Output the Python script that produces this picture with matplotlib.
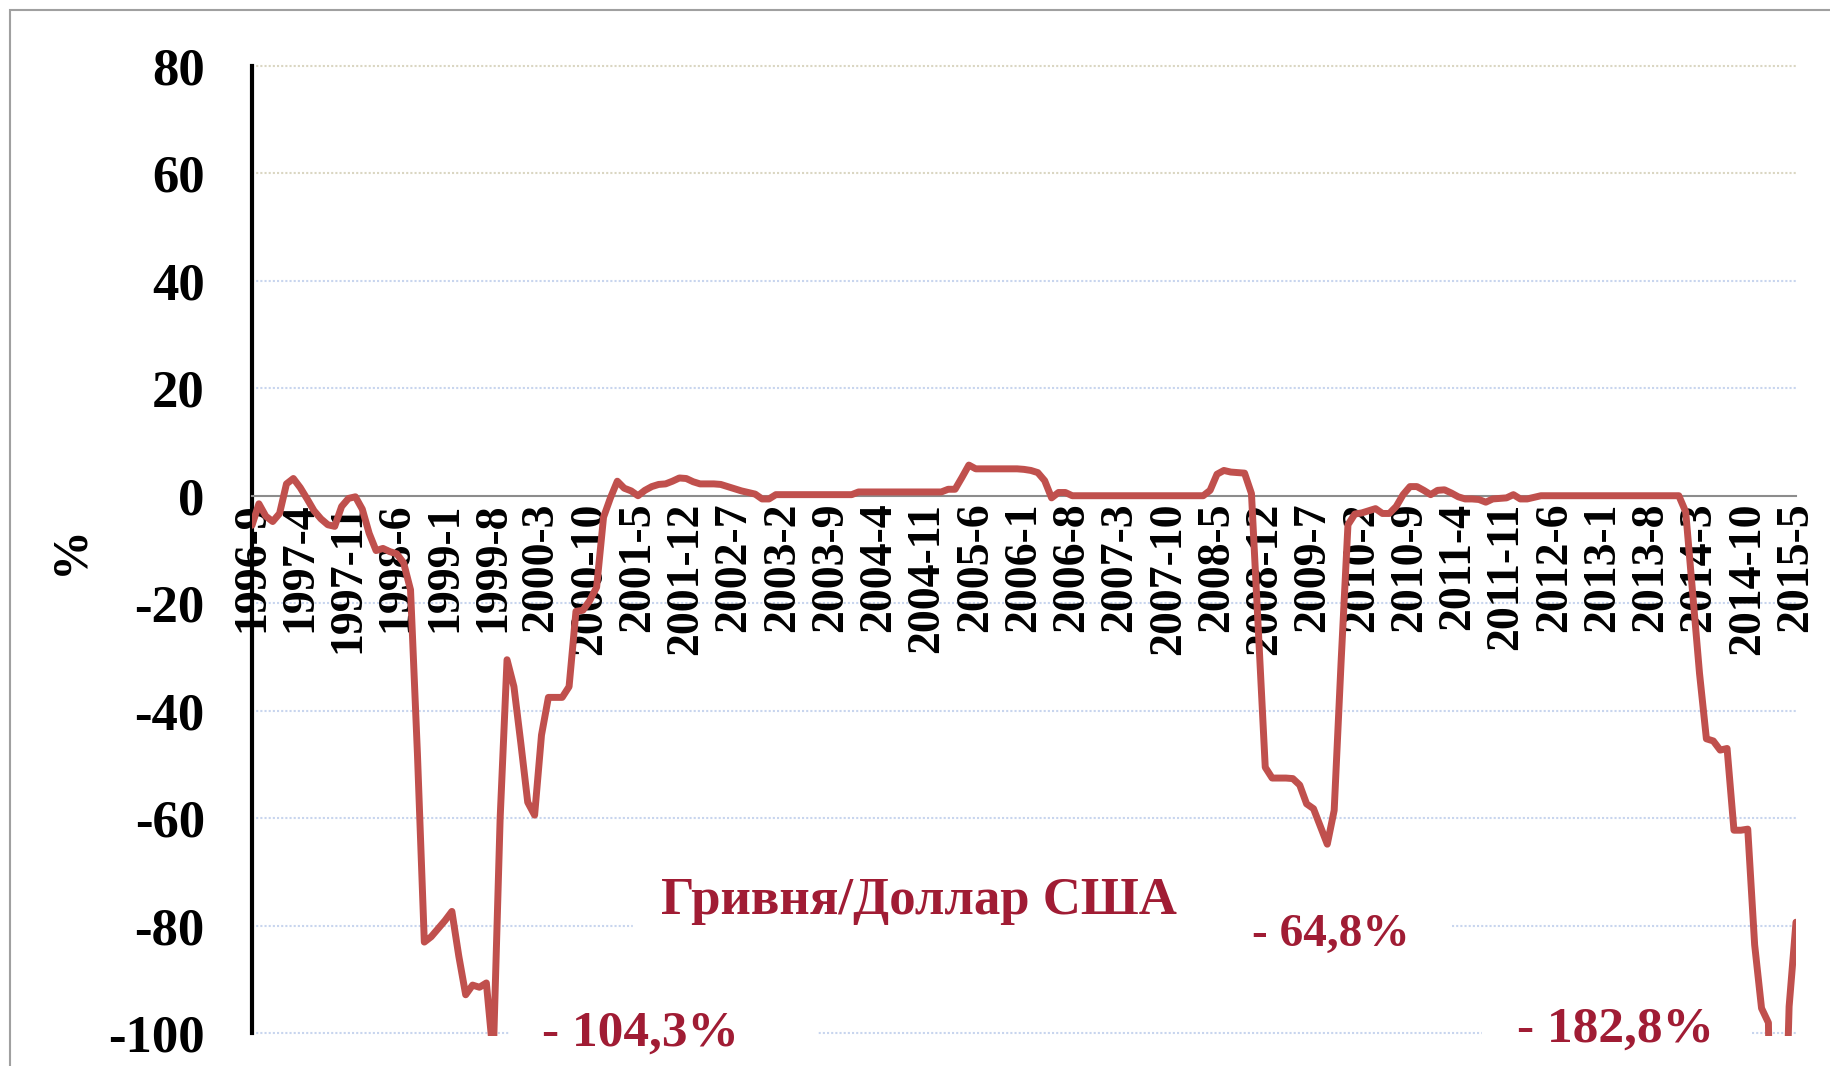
import numpy as np
import matplotlib
matplotlib.use('Agg')
import matplotlib.pyplot as plt
from matplotlib.patches import Rectangle

plt.rcParams['font.family'] = ['Liberation Serif', 'DejaVu Serif']
plt.rcParams['font.weight'] = 'bold'
plt.rcParams['axes.unicode_minus'] = False

# monthly change of UAH/USD rate, %, 1996-9 .. 2015-5
v1996 = [-5.5, -1.5, -3.8, -4.8]
v1997 = [-3.3, 2.2, 3.2, 1.5, -0.6, -2.8, -4.3, -5.4, -5.7, -2.0, -0.5, -0.2]
v1998 = [-2.5, -7.0, -10.2, -9.8, -10.4, -10.8, -12.5, -17.5, -48.0, -83.0, -82.0, -80.5]
v1999 = [-79.0, -77.3, -85.6, -92.8, -91.0, -91.4, -90.6, -104.3, -60.0, -30.5, -35.5, -46.0]
v2000 = [-57.0, -59.4, -44.5, -37.5, -37.5, -37.5, -35.5, -21.5, -21.3, -19.5, -17.0, -4.0]
v2001 = [-0.4, 2.7, 1.4, 0.9, 0.0, 1.0, 1.7, 2.1, 2.2, 2.7, 3.3, 3.2]
v2002 = [2.6, 2.2, 2.2, 2.2, 2.1, 1.7, 1.3, 0.9, 0.6, 0.3, -0.6, -0.6]
v2003 = [0.2, 0.2, 0.2, 0.2, 0.2, 0.2, 0.2, 0.2, 0.2, 0.2, 0.2, 0.2]
v2004 = [0.7, 0.7, 0.7, 0.7, 0.7, 0.7, 0.7, 0.7, 0.7, 0.7, 0.7, 0.7]
v2005 = [0.7, 1.2, 1.2, 3.4, 5.7, 5.0, 5.0, 5.0, 5.0, 5.0, 5.0, 5.0]
v2006 = [4.9, 4.7, 4.3, 2.8, -0.4, 0.6, 0.6, 0.0, 0.0, 0.0, 0.0, 0.0]
v2007 = [0.0, 0.0, 0.0, 0.0, 0.0, 0.0, 0.0, 0.0, 0.0, 0.0, 0.0, 0.0]
v2008 = [0.0, 0.0, 0.0, 1.0, 4.0, 4.7, 4.4, 4.3, 4.2, 0.4, -25.0, -50.5]
v2009 = [-52.5, -52.5, -52.5, -52.6, -53.8, -57.3, -58.2, -61.5, -64.8, -58.5, -31.0, -5.4]
v2010 = [-3.4, -3.2, -2.8, -2.4, -3.3, -3.3, -2.0, 0.2, 1.7, 1.7, 1.0, 0.2]
v2011 = [1.0, 1.1, 0.5, -0.2, -0.6, -0.6, -0.7, -1.2, -0.6, -0.5, -0.4, 0.2]
v2012 = [-0.6, -0.6, -0.3, 0.0, 0.0, 0.0, 0.0, 0.0, 0.0, 0.0, 0.0, 0.0]
v2013 = [0.0, 0.0, 0.0, 0.0, 0.0, 0.0, 0.0, 0.0, 0.0, 0.0, 0.0, 0.0]
v2014 = [-3.0, -18.0, -33.0, -45.2, -45.6, -47.3, -47.0, -62.2, -62.2, -62.0, -83.5, -95.3]
v2015 = [-98.0, -182.8, -140.0, -95.0, -79.3]

values = (v1996 + v1997 + v1998 + v1999 + v2000 + v2001 + v2002 + v2003 + v2004 + v2005
          + v2006 + v2007 + v2008 + v2009 + v2010 + v2011 + v2012 + v2013 + v2014 + v2015)

months = []
for y in range(1996, 2016):
    for m in range(1, 13):
        if (y == 1996 and m < 9) or (y == 2015 and m > 5):
            continue
        months.append(f"{y}-{m}")

tick_labels = ['1996-9', '1997-4', '1997-11', '1998-6', '1999-1', '1999-8', '2000-3',
               '2000-10', '2001-5', '2001-12', '2002-7', '2003-2', '2003-9', '2004-4',
               '2004-11', '2005-6', '2006-1', '2006-8', '2007-3', '2007-10', '2008-5',
               '2008-12', '2009-7', '2010-2', '2010-9', '2011-4', '2011-11', '2012-6',
               '2013-1', '2013-8', '2014-3', '2014-10', '2015-5']
yticks = [-100, -80, -60, -40, -20, 0, 20, 40, 60, 80]

title = 'Гривня/Доллар США'
notes = ['- 104,3%', '- 64,8%', '- 182,8%']

red = '#C0504D'
dark_red = '#A01C34'

x = np.arange(len(months))

fig = plt.figure(figsize=(18.31, 10.66), dpi=100)
ax = fig.add_axes([252 / 1831, 30.35 / 1066, 1544 / 1831, 972.3 / 1066])

ax.plot(x, values, color=red, lw=5, solid_joinstyle='round',
        solid_capstyle='round', zorder=3)

ax.set_xlim(0, len(months) - 1)
ax.set_ylim(-100.4, 80.4)

# dotted grid
for v in yticks:
    if v == 0:
        continue
    c = '#dad6c2' if v >= 60 else '#c8d5ee'
    ax.axhline(v, color=c, lw=1.5, ls=(0, (1, 1)), zorder=1)

# white boxes behind the labels
ax.add_patch(Rectangle((55.3, -87), 118.4, 14, color='white', zorder=1.5))
ax.add_patch(Rectangle((37.3, -101), 44.6, 6, color='white', zorder=1.5))
ax.add_patch(Rectangle((178.4, -101), 38.8, 6, color='white', zorder=1.5))

ax.set_yticks(yticks)
ax.tick_params(axis='y', length=0, pad=34, labelsize=38)
ax.set_xticks([months.index(t) for t in tick_labels])
ax.set_xticklabels(tick_labels)
ax.tick_params(axis='x', length=0, pad=5, labelsize=33, labelrotation=90)

ax.spines['top'].set_visible(False)
ax.spines['right'].set_visible(False)
ax.spines['bottom'].set_position(('data', 0))
ax.spines['bottom'].set_color('#8c8c8c')
ax.spines['bottom'].set_linewidth(1.5)
ax.spines['left'].set_color('black')
ax.spines['left'].set_linewidth(3)
ax.spines['left'].set_bounds(-100, 80)

ax.text(96.7, -77.7, title, color=dark_red, fontsize=38, ha='center', va='baseline', zorder=4)
ax.text(56.3, -102.3, notes[0], color=dark_red, fontsize=37, ha='center', va='baseline', zorder=4)
ax.text(156.5, -83.8, notes[1], color=dark_red, fontsize=34, ha='center', va='baseline', zorder=4)
ax.text(197.8, -101.5, notes[2], color=dark_red, fontsize=37, ha='center', va='baseline', zorder=4)

fig.text(70 / 1831, 1 - 550 / 1066, '%', rotation=90, fontsize=36, ha='center', va='center')

# outer frame (runs off the right and bottom edges)
fig.add_artist(Rectangle((10 / 1831, -0.1), 1.2, 1.1 - 10 / 1066, transform=fig.transFigure,
                         fill=False, ec='#a0a0a0', lw=1.5))

fig.savefig('out.png', dpi=100)
